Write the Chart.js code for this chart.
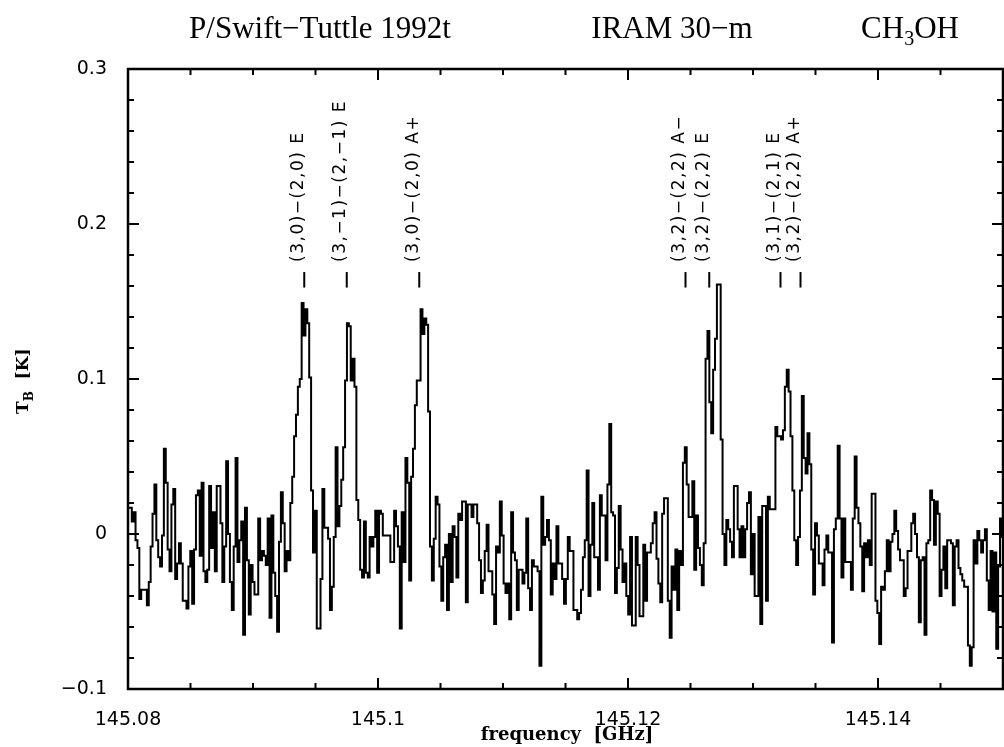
<!DOCTYPE html>
<html>
<head>
<meta charset="utf-8">
<script src="https://cdn.jsdelivr.net/npm/chart.js@4"></script>
<style>
  html, body { margin: 0; padding: 0; background: #fff; }
  #boite { width: 1004px; height: 747px; }
</style>
</head>
<body>
<div id="boite"><canvas id="spectre" width="1004" height="747"></canvas></div>
<script>
// axe des fréquences : bord du premier canal et largeur d'un canal (GHz)
const f0 = 145.08;
const df = 0.000151;

// température de brillance T_B (K), un point par canal
const tb = [
  0.017, 0.017, 0.008, 0.014, -0.004, -0.009, -0.042, -0.036, -0.036, -0.036,
  -0.046, -0.031, -0.008, 0.013, 0.032, -0.004, -0.015, -0.021, -0.001, 0.055,
  0.033, -0.01, -0.024, 0.019, 0.029, -0.029, -0.019, -0.006, -0.019, -0.043,
  -0.043, -0.048, -0.021, -0.011, -0.045, -0.01, 0.025, 0.028, -0.014, 0.033,
  -0.024, -0.031, -0.023, 0.031, -0.009, 0.014, -0.024, 0.031, 0.031, 0.007,
  -0.031, -0.008, 0.047, 0.0, -0.031, -0.049, -0.008, 0.049, -0.018, -0.004,
  0.008, -0.065, 0.017, -0.017, -0.052, -0.02, -0.031, -0.039, -0.039, 0.01,
  -0.017, -0.011, -0.014, -0.02, 0.01, -0.054, 0.012, -0.025, -0.04, -0.063,
  -0.005, 0.027, 0.007, -0.024, -0.011, -0.017, 0.02, 0.037, 0.063, 0.077,
  0.095, 0.1, 0.149, 0.128, 0.145, 0.136, 0.101, 0.028, -0.012, 0.015,
  -0.061, -0.061, -0.029, 0.029, 0.004, 0.004, -0.003, -0.049, -0.034, -0.002,
  0.056, 0.005, 0.018, 0.035, 0.056, 0.099, 0.136, 0.134, 0.099, 0.113,
  0.095, 0.022, 0.009, -0.023, -0.028, 0.008, -0.025, -0.028, -0.002, -0.008,
  -0.002, 0.015, -0.025, 0.015, 0.013, -0.001, -0.001, -0.001, -0.001, -0.018,
  -0.018, 0.015, 0.005, -0.008, -0.061, 0.014, -0.018, 0.049, 0.033, -0.03,
  0.037, 0.055, 0.083, 0.099, 0.099, 0.145, 0.129, 0.139, 0.135, 0.079,
  -0.008, -0.03, -0.003, 0.024, 0.019, -0.021, -0.043, -0.015, -0.007, -0.049,
  0.0, -0.031, 0.005, -0.002, -0.028, 0.013, 0.009, 0.021, 0.021, -0.044,
  0.019, 0.019, 0.011, 0.019, 0.019, 0.007, -0.017, -0.038, -0.03, -0.011,
  0.006, -0.024, -0.024, -0.039, -0.058, -0.008, -0.012, 0.021, -0.001, -0.032,
  -0.038, -0.032, -0.055, 0.014, -0.012, -0.017, -0.049, -0.023, -0.023, -0.032,
  -0.025, 0.01, -0.035, -0.049, -0.017, -0.021, -0.021, -0.024, -0.085, 0.024,
  -0.007, -0.002, 0.009, -0.004, -0.039, -0.019, -0.029, 0.005, -0.019, -0.019,
  -0.029, -0.045, -0.029, -0.002, -0.011, -0.011, -0.049, -0.049, -0.055, -0.051,
  -0.036, -0.015, -0.004, 0.041, -0.04, -0.007, 0.02, -0.015, -0.015, -0.036,
  0.025, 0.012, 0.012, -0.017, 0.032, 0.071, 0.014, 0.012, -0.038, -0.022,
  0.018, -0.01, -0.031, -0.019, -0.04, -0.052, -0.002, -0.059, -0.059, -0.002,
  -0.02, -0.053, -0.053, -0.007, -0.043, -0.012, -0.012, -0.006, 0.007, 0.014,
  -0.016, -0.032, -0.044, 0.013, 0.023, 0.023, -0.043, -0.067, -0.021, -0.036,
  -0.01, -0.049, -0.011, -0.02, 0.046, 0.056, 0.032, 0.011, 0.011, 0.034,
  -0.023, 0.012, -0.009, -0.02, -0.033, -0.006, 0.113, 0.131, 0.085, 0.065,
  0.106, 0.126, 0.161, 0.161, 0.061, 0.0, -0.02, 0.009, 0.003, -0.005,
  -0.015, 0.031, 0.031, 0.003, -0.015, 0.005, -0.015, 0.003, 0.02, 0.027,
  -0.026, 0.0, -0.04, -0.04, 0.011, -0.058, 0.018, 0.018, -0.043, 0.024,
  0.016, 0.016, 0.016, 0.069, 0.063, 0.063, 0.061, 0.067, 0.095, 0.106,
  0.092, 0.063, 0.028, -0.004, -0.02, -0.002, 0.028, 0.089, 0.049, 0.039,
  0.065, 0.045, -0.01, -0.039, 0.007, -0.001, -0.019, -0.019, -0.033, -0.01,
  -0.001, -0.012, -0.012, -0.07, 0.003, 0.01, 0.057, 0.01, -0.028, 0.01,
  -0.018, -0.018, -0.018, -0.036, 0.01, 0.05, 0.017, 0.007, -0.008, -0.037,
  -0.006, -0.015, -0.004, -0.02, 0.026, 0.026, -0.043, -0.051, -0.071, -0.034,
  -0.036, -0.024, -0.004, -0.024, -0.005, 0.0, 0.015, 0.002, -0.01, -0.017,
  -0.017, -0.04, -0.035, -0.011, -0.011, 0.007, 0.013, 0.0, -0.015, -0.057,
  -0.017, -0.015, -0.065, -0.006, -0.004, 0.028, 0.022, -0.007, 0.021, 0.013,
  -0.04, -0.023, -0.008, -0.035, -0.004, -0.004, -0.006, -0.046, -0.008, -0.004,
  -0.022, -0.026, -0.03, -0.034, -0.034, -0.072, -0.085, -0.073, -0.004, -0.019,
  0.002, -0.004, -0.012, -0.004, 0.003, -0.03, -0.049, -0.011, -0.05, -0.012,
  -0.074, -0.021, 0.01, -0.002, -0.02, -0.02
];

// graduations
const xTicks = [145.08, 145.1, 145.12, 145.14];
const yTicks = [-0.1, 0, 0.1, 0.2, 0.3];

// raies du méthanol repérées en haut
const raiesFreq = [145.0941, 145.0975, 145.1033, 145.1246, 145.1265, 145.1322, 145.1338];
const raiesNom = [
  '(3,0)\u2212(2,0) E',
  '(3,\u22121)\u2212(2,\u22121) E',
  '(3,0)\u2212(2,0) A+',
  '(3,2)\u2212(2,2) A\u2212',
  '(3,2)\u2212(2,2) E',
  '(3,1)\u2212(2,1) E',
  '(3,2)\u2212(2,2) A+'
];

const titres = ['P/Swift\u2212Tuttle 1992t', 'IRAM 30\u2212m'];

const points = tb.map((v, i) => ({ x: f0 + (i + 0.5) * df, y: v }));

// cadre, graduations internes, raies et titres
const habillage = {
  id: 'habillage',
  afterDraw(chart) {
    const { ctx, chartArea: a, scales: { x, y } } = chart;
    const trait = (x1, y1, x2, y2) => {
      ctx.beginPath(); ctx.moveTo(x1, y1); ctx.lineTo(x2, y2); ctx.stroke();
    };
    ctx.save();
    ctx.strokeStyle = '#000';
    ctx.fillStyle = '#000';
    ctx.lineWidth = 2.5;
    ctx.strokeRect(a.left, a.top, a.right - a.left, a.bottom - a.top);

    ctx.lineWidth = 2;
    for (let k = 0; k <= 14; k++) {
      const px = x.getPixelForValue(145.08 + k * 0.005);
      const l = k % 4 === 0 ? 11 : 6;
      trait(px, a.bottom, px, a.bottom - l);
      trait(px, a.top, px, a.top + l);
    }
    for (let k = 0; k <= 20; k++) {
      const py = y.getPixelForValue(-0.1 + k * 0.02);
      const l = k % 5 === 0 ? 11 : 6;
      trait(a.left, py, a.left + l, py);
      trait(a.right, py, a.right - l, py);
    }

    // raies
    ctx.font = '17px "DejaVu Sans"';
    ctx.letterSpacing = '1.5px';
    ctx.textAlign = 'left';
    ctx.textBaseline = 'alphabetic';
    raiesFreq.forEach((f, i) => {
      const px = x.getPixelForValue(f);
      trait(px, y.getPixelForValue(0.159), px, y.getPixelForValue(0.169));
      ctx.save();
      ctx.translate(px - 1.5, y.getPixelForValue(0.1755));
      ctx.rotate(-Math.PI / 2);
      ctx.fillText(raiesNom[i], 0, 0);
      ctx.restore();
    });
    ctx.letterSpacing = '0px';

    // titre du haut
    const gros = '31px "Liberation Serif"', petit = '20px "Liberation Serif"';
    ctx.font = gros;
    ctx.textAlign = 'center';
    ctx.fillText(titres[0], 320, 38);
    ctx.fillText(titres[1], 672, 38);
    // CH3OH avec l'indice
    ctx.textAlign = 'left';
    const w1 = ctx.measureText('CH').width, w3 = ctx.measureText('OH').width;
    ctx.font = petit; const w2 = ctx.measureText('3').width;
    let cx = 910 - (w1 + w2 + w3) / 2;
    ctx.font = gros; ctx.fillText('CH', cx, 38); cx += w1;
    ctx.font = petit; ctx.fillText('3', cx, 45); cx += w2;
    ctx.font = gros; ctx.fillText('OH', cx, 38);

    // titre axe x
    ctx.font = 'bold 18px "DejaVu Serif"';
    ctx.textAlign = 'center';
    ctx.fillText('frequency  [GHz]', 567, 740);

    // titre axe y : T_B [K]
    ctx.save();
    ctx.translate(28, 414);
    ctx.rotate(-Math.PI / 2);
    ctx.textAlign = 'left';
    ctx.font = 'bold 17px "DejaVu Serif"';
    const wT = ctx.measureText('T').width;
    ctx.fillText('T', 0, 0);
    ctx.font = 'bold 12px "DejaVu Serif"';
    const wB = ctx.measureText('B').width;
    ctx.fillText('B', wT, 5);
    ctx.font = 'bold 17px "DejaVu Serif"';
    ctx.fillText('  [K]', wT + wB, 0);
    ctx.restore();

    ctx.restore();
  }
};

new Chart(document.getElementById('spectre'), {
  type: 'line',
  data: {
    datasets: [{
      data: points,
      borderColor: '#000',
      borderWidth: 2,
      pointRadius: 0,
      stepped: 'middle',
      fill: false
    }]
  },
  options: {
    responsive: false,
    animation: false,
    layout: { padding: { top: 69, right: 1, left: 0, bottom: 0 } },
    plugins: {
      legend: { display: false },
      tooltip: { enabled: false },
      title: { display: false }
    },
    scales: {
      x: {
        type: 'linear',
        min: 145.08,
        max: 145.15,
        grid: { display: false },
        border: { display: false },
        afterBuildTicks: s => { s.ticks = xTicks.map(v => ({ value: v })); },
        afterFit: s => { s.height = 58; },
        ticks: {
          color: '#000',
          font: { family: 'DejaVu Sans', size: 19 },
          padding: 12,
          maxRotation: 0,
          autoSkip: false,
          callback: v => String(+v.toFixed(2))
        }
      },
      y: {
        min: -0.1,
        max: 0.3,
        grid: { display: false },
        border: { display: false },
        afterBuildTicks: s => { s.ticks = yTicks.map(v => ({ value: v })); },
        afterFit: s => { s.width = 128; },
        ticks: {
          color: '#000',
          font: { family: 'DejaVu Sans', size: 19 },
          padding: 13,
          callback: v => Math.abs(v) < 1e-9 ? '0' : (v < 0 ? '\u2212' : '') + Math.abs(v).toFixed(1)
        }
      }
    }
  },
  plugins: [habillage]
});
</script>
</body>
</html>
